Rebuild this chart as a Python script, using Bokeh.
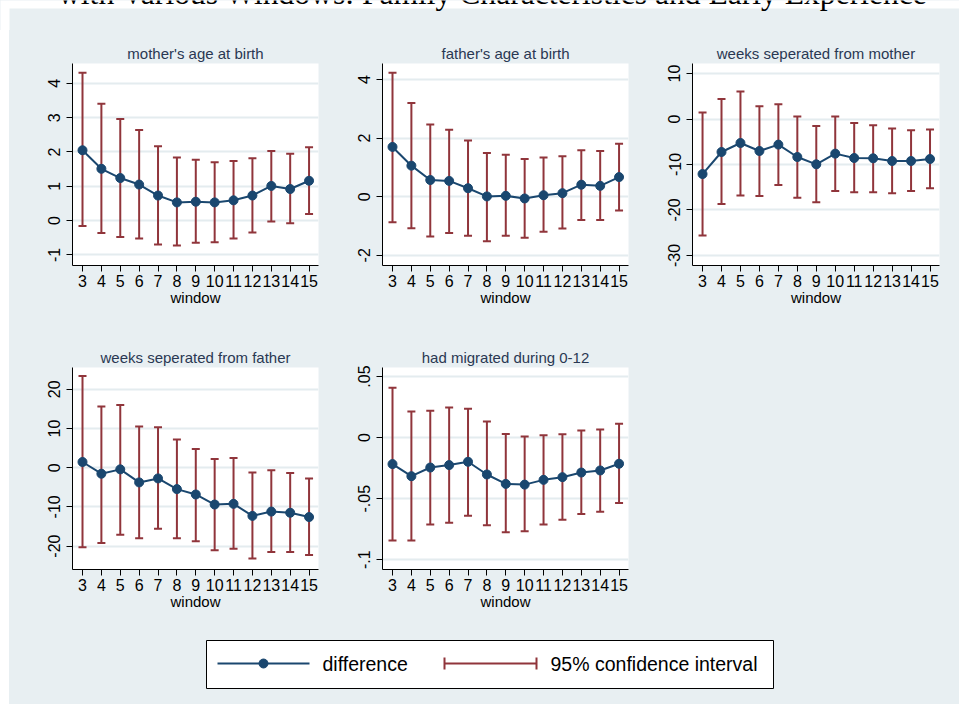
from bokeh.plotting import figure
from bokeh.models import (ColumnDataSource, FixedTicker, Whisker, TeeHead,
                          Range1d, Spacer)
from bokeh.layouts import row, column
from bokeh.core.properties import value
from bokeh.embed import file_html
from bokeh.resources import INLINE

# ---------------------------------------------------------------- data
window = [3, 4, 5, 6, 7, 8, 9, 10, 11, 12, 13, 14, 15]

mother_age_diff = [2.05, 1.51, 1.24, 1.05, 0.73, 0.53, 0.55, 0.53, 0.59, 0.73, 1.01, 0.92, 1.16]
mother_age_lo = [-0.16, -0.36, -0.48, -0.52, -0.70, -0.73, -0.65, -0.63, -0.52, -0.35, -0.03, -0.08, 0.19]
mother_age_hi = [4.31, 3.41, 2.96, 2.64, 2.17, 1.84, 1.77, 1.70, 1.74, 1.82, 2.03, 1.95, 2.14]

father_age_diff = [1.70, 1.06, 0.57, 0.54, 0.29, 0.01, 0.03, -0.06, 0.05, 0.12, 0.41, 0.37, 0.67]
father_age_lo = [-0.87, -1.08, -1.36, -1.24, -1.33, -1.52, -1.33, -1.40, -1.20, -1.09, -0.80, -0.80, -0.47]
father_age_hi = [4.23, 3.20, 2.47, 2.29, 1.92, 1.49, 1.43, 1.29, 1.34, 1.38, 1.59, 1.56, 1.81]

sep_mother_diff = [-12.1, -7.25, -5.27, -7.03, -5.63, -8.35, -9.96, -7.61, -8.57, -8.64, -9.23, -9.23, -8.79]
sep_mother_lo = [-25.6, -18.7, -16.8, -16.9, -14.5, -17.3, -18.3, -15.8, -16.1, -16.1, -16.3, -15.8, -15.2]
sep_mother_hi = [1.41, 4.42, 6.04, 2.81, 3.25, 0.53, -1.52, 0.53, -0.86, -1.38, -2.11, -2.48, -2.33]

sep_father_diff = [1.45, -1.54, -0.43, -3.76, -2.74, -5.47, -6.84, -9.40, -9.23, -12.3, -11.2, -11.5, -12.6]
sep_father_lo = [-20.3, -19.2, -17.1, -18.0, -15.6, -18.0, -18.8, -21.1, -20.7, -23.2, -21.5, -21.5, -22.3]
sep_father_hi = [23.4, 15.6, 16.0, 10.5, 10.3, 7.18, 4.79, 2.22, 2.48, -1.20, -0.68, -1.37, -2.74]

migrated_diff = [-0.0217, -0.0316, -0.0245, -0.0225, -0.0198, -0.0302, -0.0379, -0.0385, -0.0346, -0.0324, -0.0286, -0.0269, -0.0214]
migrated_lo = [-0.0843, -0.0843, -0.0712, -0.0698, -0.0640, -0.0717, -0.0775, -0.0766, -0.0712, -0.0673, -0.0626, -0.0607, -0.0536]
migrated_hi = [0.0409, 0.0214, 0.0220, 0.0247, 0.0236, 0.0132, 0.0030, 0.0008, 0.0019, 0.0027, 0.0058, 0.0066, 0.0113]

panel_titles = ["mother's age at birth", "father's age at birth",
                "weeks seperated from mother", "weeks seperated from father",
                "had migrated during 0-12"]

mother_age_ticks = [-1, 0, 1, 2, 3, 4]
mother_age_labels = ["-1", "0", "1", "2", "3", "4"]
father_age_ticks = [-2, 0, 2, 4]
father_age_labels = ["-2", "0", "2", "4"]
sep_mother_ticks = [-30, -20, -10, 0, 10]
sep_mother_labels = ["-30", "-20", "-10", "0", "10"]
sep_father_ticks = [-20, -10, 0, 10, 20]
sep_father_labels = ["-20", "-10", "0", "10", "20"]
migrated_ticks = [-0.1, -0.05, 0, 0.05]
migrated_labels = ["-.1", "-.05", "0", ".05"]

legend_labels = ["difference", "95% confidence interval"]
page_title = "with Various Windows: Family Characteristics and Early Experience"

# ---------------------------------------------------------------- style
BG = "#e8eff2"
GRID = "#e4ecef"
NAVY = "#1a476f"
MAROON = "#90353b"
TITLE_C = "#2a3853"
SANS = "Liberation Sans"

HEAD_H = 30          # height of the heading strip above the first row of panels


def panel(title, diff, lo, hi, yrange, yticks, ylabels, width=310, top_border=52):
    p = figure(width=width, height=202 + top_border + 50,
               x_range=Range1d(2.47, 15.5), y_range=Range1d(*yrange),
               output_backend="svg", toolbar_location=None,
               min_border_left=63, min_border_right=1,
               min_border_top=top_border, min_border_bottom=50,
               background_fill_color="white", border_fill_color=BG,
               outline_line_color=None, title=title)
    p.title.align = "center"
    p.title.text_font = SANS
    p.title.text_font_size = "15px"
    p.title.text_font_style = "normal"
    p.title.text_color = TITLE_C
    p.title.standoff = 3

    src = ColumnDataSource(dict(x=window, y=diff, lo=lo, hi=hi))

    # horizontal grid only
    p.xgrid.grid_line_color = None
    p.ygrid.grid_line_color = GRID
    p.ygrid.grid_line_width = 2

    for ax in (p.xaxis, p.yaxis):
        ax.axis_line_color = "black"
        ax.axis_line_width = 1
        ax.major_tick_line_color = "black"
        ax.major_tick_out = 6
        ax.major_tick_in = 0
        ax.minor_tick_line_color = None
        ax.major_label_text_font = SANS
        ax.major_label_text_font_size = "16px"
        ax.major_label_text_color = "black"

    p.xaxis.ticker = FixedTicker(ticks=window)
    p.xaxis.major_label_standoff = 3
    p.xaxis.axis_label = "window"
    p.xaxis.axis_label_text_font = SANS
    p.xaxis.axis_label_text_font_size = "15px"
    p.xaxis.axis_label_text_font_style = "normal"
    p.xaxis.axis_label_text_color = "black"
    p.xaxis.axis_label_standoff = -1

    p.yaxis.ticker = FixedTicker(ticks=yticks)
    p.yaxis.major_label_overrides = dict(zip(yticks, ylabels))
    p.yaxis.major_label_orientation = "vertical"
    p.yaxis.major_label_standoff = 6

    # confidence interval bars, then the difference line with markers
    p.add_layout(Whisker(source=src, base="x", lower="lo", upper="hi",
                         line_color=MAROON, line_width=2,
                         lower_head=TeeHead(size=8, line_color=MAROON, line_width=2),
                         upper_head=TeeHead(size=8, line_color=MAROON, line_width=2)))
    p.line("x", "y", source=src, line_color=NAVY, line_width=2)
    p.scatter("x", "y", source=src, size=9, fill_color=NAVY, line_color=NAVY)
    return p


first_top = 52 - (HEAD_H - 11)
p1 = panel(panel_titles[0], mother_age_diff, mother_age_lo, mother_age_hi,
           (-1.31, 4.58), mother_age_ticks, mother_age_labels, top_border=first_top)
p2 = panel(panel_titles[1], father_age_diff, father_age_lo, father_age_hi,
           (-2.35, 4.55), father_age_ticks, father_age_labels, top_border=first_top)
p3 = panel(panel_titles[2], sep_mother_diff, sep_mother_lo, sep_mother_hi,
           (-32.2, 12.2), sep_mother_ticks, sep_mother_labels, width=311,
           top_border=first_top)
p4 = panel(panel_titles[3], sep_father_diff, sep_father_lo, sep_father_hi,
           (-25.98, 25.56), sep_father_ticks, sep_father_labels)
p5 = panel(panel_titles[4], migrated_diff, migrated_lo, migrated_hi,
           (-0.108, 0.0574), migrated_ticks, migrated_labels)


def blank(width, height, x_range, y_range, fill):
    f = figure(width=width, height=height, x_range=x_range, y_range=y_range,
               output_backend="svg", toolbar_location=None, title=None,
               x_axis_type=None, y_axis_type=None, min_border=0,
               background_fill_color=fill, border_fill_color=fill,
               outline_line_color=None)
    f.grid.grid_line_color = None
    return f


# page heading strip (pixel coordinates, y pointing down); only the lower
# edge of the running heading shows above the chart area
top = blank(959, HEAD_H, Range1d(0, 959), Range1d(HEAD_H, 0), "white")
top.quad(left=9, right=959, top=8, bottom=HEAD_H, fill_color=BG, line_color=None)
top.text(x=[492.5], y=[-7], text=[page_title], text_font=value("Liberation Serif"),
         text_font_size="31.6px", text_align="center", text_baseline="alphabetic",
         text_color="black")

# legend strip (pixel coordinates, y pointing down)
leg = blank(950, 85, Range1d(9, 959), Range1d(704, 619), BG)
leg.quad(left=206, right=773, top=640, bottom=688, fill_color="white",
         line_color="black", line_width=1)
leg.line(x=[217, 309], y=[663, 663], line_color=NAVY, line_width=2)
leg.scatter(x=[263], y=[663], size=9, fill_color=NAVY, line_color=NAVY)
leg.segment(x0=[444, 444, 536], y0=[663, 657, 657], x1=[536, 444, 536], y1=[663, 669, 669],
            line_color=MAROON, line_width=2)
leg.text(x=[322, 550], y=[663, 663], text=legend_labels, text_font=value(SANS),
         text_font_size="19.5px", text_baseline="middle", text_align="left",
         text_color="black")

white_style = {"background-color": "white"}
row1_h = 202 + first_top + 50
row1 = row(Spacer(width=9, height=row1_h, styles=white_style), p1, p2, p3,
           Spacer(width=19, height=row1_h))
row2 = row(Spacer(width=9, height=304, styles=white_style), p4, p5,
           Spacer(width=330, height=304))
row3 = row(Spacer(width=9, height=85, styles=white_style), leg)
page = column(top, row1, row2, row3, styles={"background-color": BG})

open("out.html", "w").write(file_html(page, INLINE))
